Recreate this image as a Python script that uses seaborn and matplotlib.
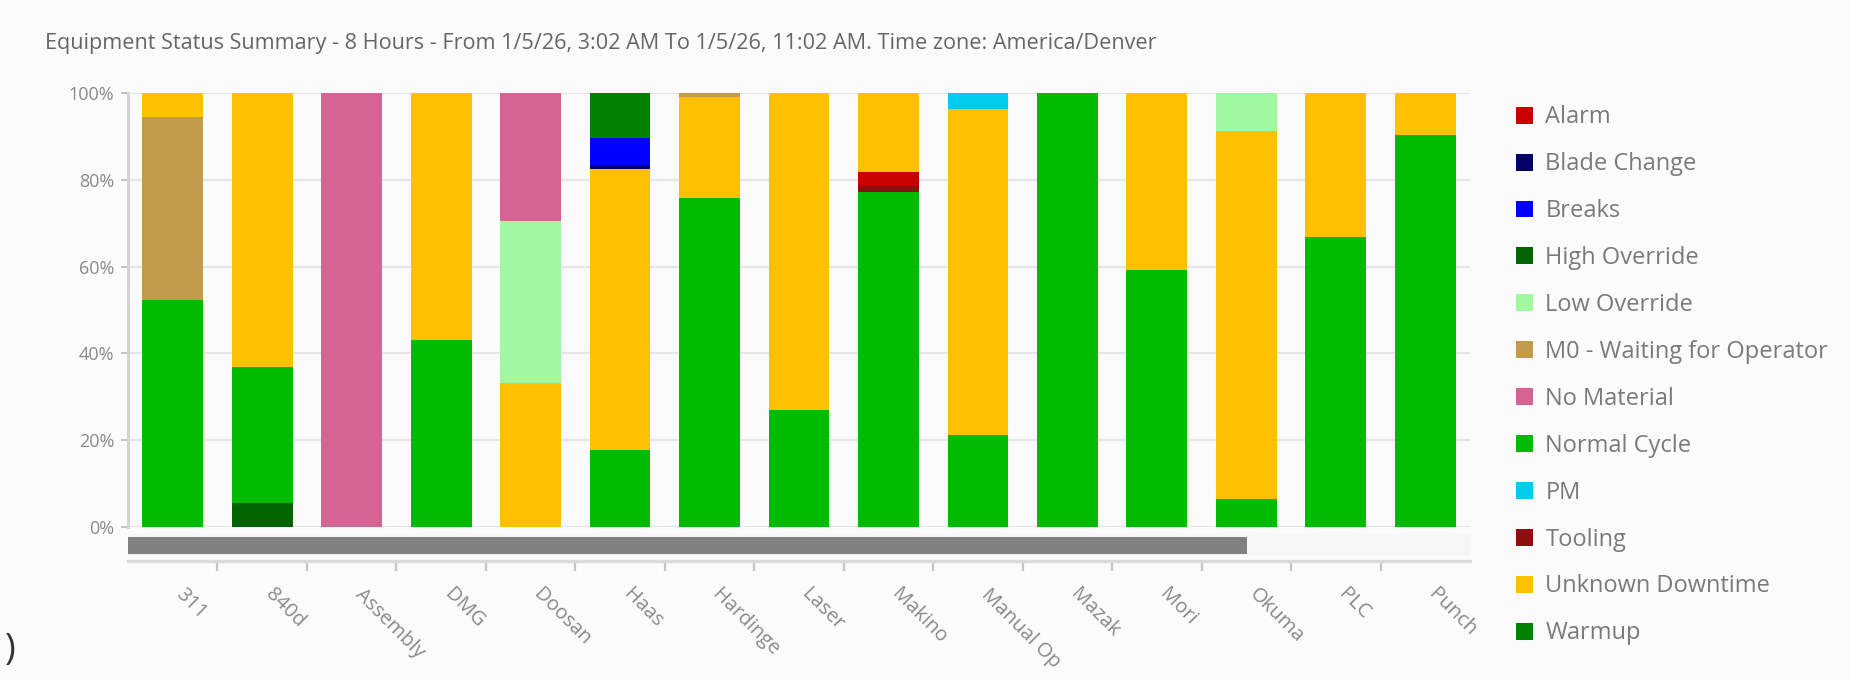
import matplotlib
matplotlib.use("Agg")
from matplotlib import pyplot as plt
from matplotlib.patches import Patch, Rectangle
from matplotlib.transforms import ScaledTranslation
import pandas as pd
import seaborn as sns

# machines on the x axis
machines = ["311", "840d", "Assembly", "DMG", "Doosan", "Haas", "Hardinge", "Laser",
            "Makino", "Manual Op", "Mazak", "Mori", "Okuma", "PLC", "Punch"]

# legend order and colours
statuses = ["Alarm", "Blade Change", "Breaks", "High Override", "Low Override",
            "M0 - Waiting for Operator", "No Material", "Normal Cycle", "PM",
            "Tooling", "Unknown Downtime", "Warmup"]
status_colors = ["#c80000", "#000066", "#0000ff", "#006400", "#a0f8a0",
                 "#c29c4a", "#d36494", "#00bb00", "#00ccee",
                 "#8b1010", "#ffc000", "#008000"]

# stacked segments for each machine, bottom -> top
segment_status = [
    ["Normal Cycle", "M0 - Waiting for Operator", "Unknown Downtime"],
    ["High Override", "Normal Cycle", "Unknown Downtime"],
    ["No Material"],
    ["Normal Cycle", "Unknown Downtime"],
    ["Unknown Downtime", "Low Override", "No Material"],
    ["Normal Cycle", "Unknown Downtime", "Blade Change", "Breaks", "Warmup"],
    ["Normal Cycle", "Unknown Downtime", "M0 - Waiting for Operator"],
    ["Normal Cycle", "Unknown Downtime"],
    ["Normal Cycle", "Tooling", "Alarm", "Unknown Downtime"],
    ["Normal Cycle", "Unknown Downtime", "PM"],
    ["Normal Cycle"],
    ["Normal Cycle", "Unknown Downtime"],
    ["Normal Cycle", "Unknown Downtime", "Low Override"],
    ["Normal Cycle", "Unknown Downtime"],
    ["Normal Cycle", "Unknown Downtime"],
]
segment_pct = [
    [52.3, 42.2, 5.5],
    [5.5, 31.4, 63.1],
    [100.0],
    [43.1, 56.9],
    [33.1, 37.3, 29.6],
    [17.7, 64.7, 1.0, 6.2, 10.4],
    [75.8, 23.2, 1.0],
    [26.9, 73.1],
    [77.3, 1.2, 3.2, 18.3],
    [21.2, 75.1, 3.7],
    [100.0],
    [59.2, 40.8],
    [6.5, 84.7, 8.8],
    [66.8, 33.2],
    [90.4, 9.6],
]

title = ("Equipment Status Summary - 8 Hours - From 1/5/26, 3:02 AM To 1/5/26, "
         "11:02 AM. Time zone: America/Denver")

sns.set_style("white")
plt.rcParams["font.family"] = ["Open Sans", "DejaVu Sans"]

palette = dict(zip(statuses, status_colors))

# long table with cumulative tops per segment
rows = []
for machine, names, values in zip(machines, segment_status, segment_pct):
    top = 0.0
    for level, (name, value) in enumerate(zip(names, values)):
        top += value
        rows.append({"machine": machine, "status": name, "level": level, "top": top})
df = pd.DataFrame(rows)

bg = "#fbfbfb"
fig = plt.figure(figsize=(18.5, 6.8), dpi=100, facecolor=bg)
ax = fig.add_axes([128 / 1850, 153 / 680, 1342 / 1850, 434 / 680], facecolor=bg)

# draw from the highest level down so lower segments sit on top
for level in sorted(df["level"].unique(), reverse=True):
    sub = df[df["level"] == level]
    sns.barplot(data=sub, x="machine", y="top", hue="status", palette=palette,
                order=machines, dodge=False, width=0.68, saturation=1,
                linewidth=0, errorbar=None, legend=False, ax=ax)

ax.set_xlim(-0.5, len(machines) - 0.5)
ax.set_ylim(0, 100)
ax.set_xlabel("")
ax.set_ylabel("")

# y axis
ax.set_yticks(range(0, 101, 20))
ax.set_yticklabels([f"{v}%" for v in range(0, 101, 20)])
ax.yaxis.grid(True, color="#e6e6e6", lw=1.6)
ax.set_axisbelow(True)
ax.tick_params(axis="y", left=True, length=5, width=1.3, color="#bdbdbd", pad=5,
               labelsize=13, labelcolor="#8a8a8a")

# x axis below the scroll bar, ticks between categories
ax.set_xticks(range(len(machines)))
ax.set_xticks([i + 0.5 for i in range(len(machines) - 1)], minor=True)
ax.tick_params(axis="x", which="both", bottom=True)
ax.tick_params(axis="x", which="major", length=0, pad=22, labelsize=14.5,
               labelcolor="#8a8a8a")
ax.tick_params(axis="x", which="minor", length=7, width=1.6, color="#c4c4c4")

for side in ["top", "right"]:
    ax.spines[side].set_visible(False)
ax.spines["left"].set_color("#d4d4d4")
ax.spines["left"].set_linewidth(2.2)
ax.spines["bottom"].set_position(("outward", 24.5))
ax.spines["bottom"].set_color("#dadada")
ax.spines["bottom"].set_linewidth(2.4)

ax.set_xticklabels(machines, rotation=-45, ha="left", va="center",
                   rotation_mode="anchor")
shift = ScaledTranslation(0.06, 0, fig.dpi_scale_trans)
for label in ax.get_xticklabels():
    label.set_transform(label.get_transform() + shift)

# scroll bar under the plot
fig.patches.append(Rectangle((128 / 1850, 124 / 680), 1342 / 1850, 22 / 680,
                             transform=fig.transFigure, facecolor="#f6f6f6",
                             edgecolor="none", zorder=0))
fig.patches.append(Rectangle((128 / 1850, 126 / 680), 1119 / 1850, 17 / 680,
                             transform=fig.transFigure, facecolor="#808080",
                             edgecolor="none", zorder=1))

fig.text(45 / 1850, 1 - 43 / 680, title, ha="left", va="center",
         fontsize=15.6, color="#666666")
fig.text(10 / 1850, 1 - 650 / 680, ")", ha="center", va="center",
         fontsize=26, color="#333333")

handles = [Patch(facecolor=c, edgecolor="none") for c in status_colors]
fig.legend(handles, statuses, loc="upper left",
           bbox_to_anchor=(1507 / 1850, 1 - 96 / 680), frameon=False,
           fontsize=17, labelcolor="#7a7a7a", handlelength=0.72,
           handleheight=0.72, handletextpad=0.5, labelspacing=0.97,
           borderaxespad=0)

fig.savefig("out.png", dpi=100, facecolor=bg)
